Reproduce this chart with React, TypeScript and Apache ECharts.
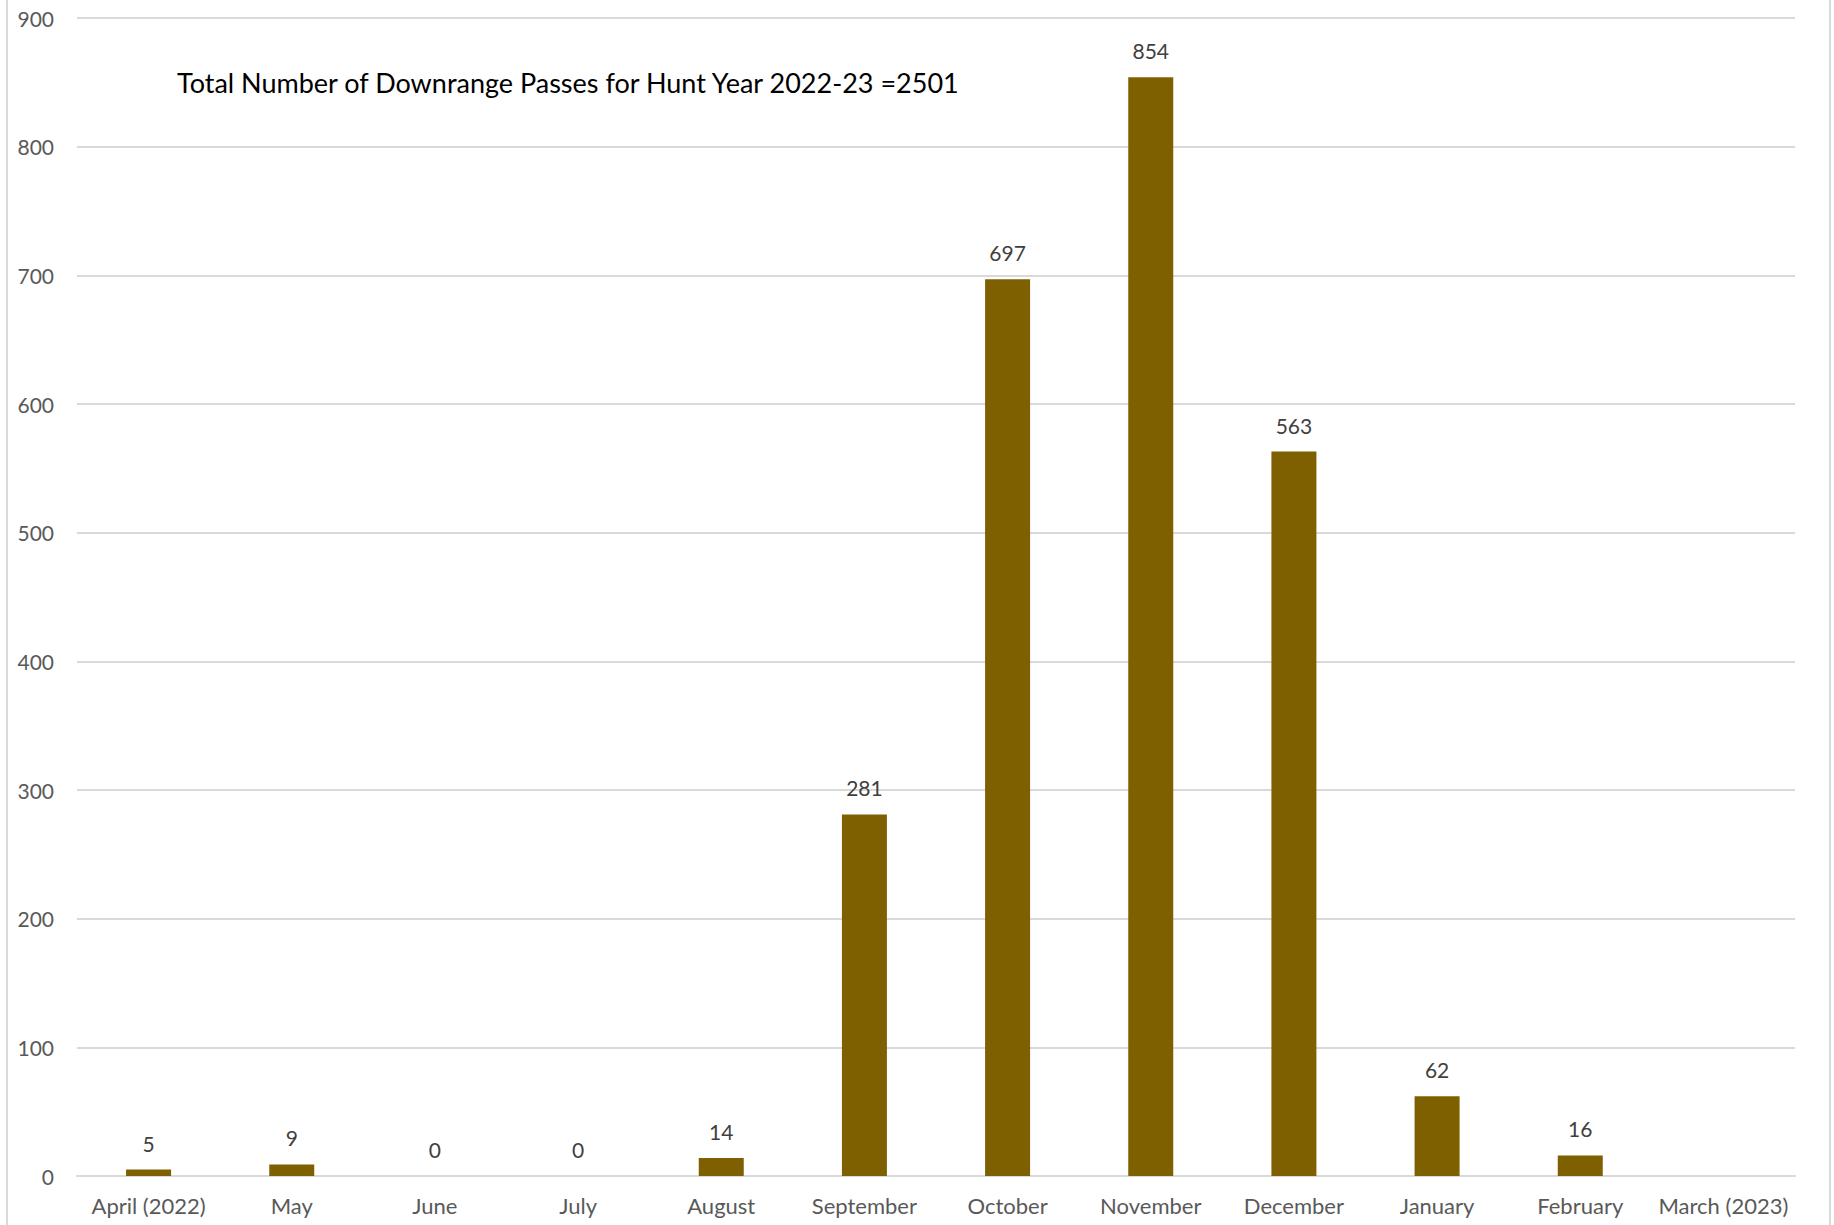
import React, { useEffect, useRef } from "react";
import * as echarts from "echarts";

const categories = [
  "April (2022)", "May", "June", "July", "August", "September",
  "October", "November", "December", "January", "February", "March (2023)",
];
const passes: (number | null)[] = [5, 9, 0, 0, 14, 281, 697, 854, 563, 62, 16, null];
const titleText = "Total Number of Downrange Passes for Hunt Year 2022-23 =2501";
const yMin = 0;
const yMax = 900;
const yInterval = 100;

export default function App() {
  const ref = useRef<HTMLDivElement>(null);
  useEffect(() => {
    if (!ref.current) return;
    const chart = echarts.init(ref.current, undefined, { renderer: "svg" });
    const font = "Lato, 'Open Sans', sans-serif";
    chart.setOption({
      animation: false,
      backgroundColor: "#ffffff",
      grid: { left: 77, right: 39, top: 18, bottom: 49, containLabel: false },
      graphic: [
        { type: "line", shape: { x1: 7, y1: 0, x2: 7, y2: 1225 }, style: { stroke: "#d9d9d9", lineWidth: 2 } },
        { type: "line", shape: { x1: 1830, y1: 0, x2: 1830, y2: 1225 }, style: { stroke: "#d9d9d9", lineWidth: 2 } },
        {
          type: "text",
          left: 177,
          top: 69,
          style: { text: titleText, fontFamily: font, fontSize: 27, fill: "#000000" },
        },
      ],
      xAxis: {
        type: "category",
        data: categories,
        axisLine: { show: true, lineStyle: { color: "#d9d9d9", width: 2 } },
        axisTick: { show: false },
        axisLabel: { color: "#595959", fontSize: 22, fontFamily: font, margin: 18, interval: 0 },
      },
      yAxis: {
        type: "value",
        min: yMin,
        max: yMax,
        interval: yInterval,
        axisLine: { show: false },
        axisTick: { show: false },
        splitLine: { lineStyle: { color: "#d9d9d9", width: 2 } },
        axisLabel: { color: "#595959", fontSize: 21, fontFamily: font, margin: 23 },
      },
      series: [
        {
          type: "bar",
          data: passes,
          barWidth: 45,
          itemStyle: { color: "#7f6000" },
          label: {
            show: true,
            position: "top",
            distance: 16,
            color: "#404040",
            fontSize: 21,
            fontFamily: font,
            formatter: (p: any) => (p.value === null || p.value === undefined ? "" : String(p.value)),
          },
        },
      ],
    });
    return () => chart.dispose();
  }, []);
  return <div ref={ref} style={{ position: "fixed", left: 0, top: 0, width: 1834, height: 1225 }} />;
}
